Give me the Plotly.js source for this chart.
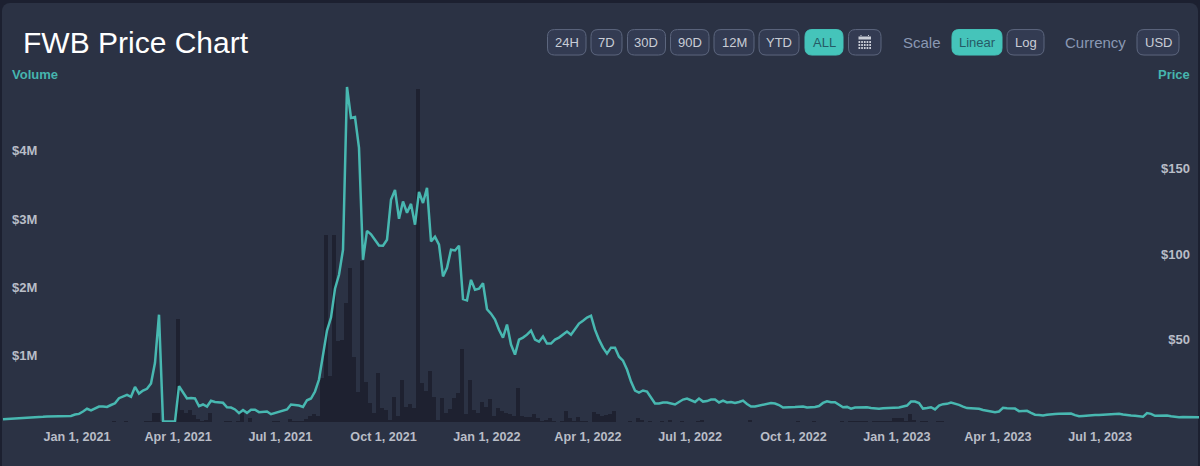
<!DOCTYPE html>
<html><head><meta charset="utf-8">
<script src="https://cdn.plot.ly/plotly-3.0.1.min.js"></script>
<style>
html,body{margin:0;padding:0;background:#1c2030;width:1200px;height:466px;overflow:hidden}
#card{position:absolute;left:2px;top:3px;width:1196px;height:463px;background:#2b3244;border-radius:8px 8px 0 0}
#chart{position:absolute;left:0;top:0;width:1200px;height:466px}
</style></head><body>
<div id="card"></div><div id="chart"></div>
<script>
const chartTitle = "FWB Price Chart";
const tickDates = ["2021-01-01","2021-04-01","2021-07-01","2021-10-01","2022-01-01","2022-04-01","2022-07-01","2022-10-01","2023-01-01","2023-04-01","2023-07-01"];
const tickLabels = ["Jan 1, 2021","Apr 1, 2021","Jul 1, 2021","Oct 1, 2021","Jan 1, 2022","Apr 1, 2022","Jul 1, 2022","Oct 1, 2022","Jan 1, 2023","Apr 1, 2023","Jul 1, 2023"];
const volumeTicks = [1,2,3,4];
const volumeTickLabels = ["$1M","$2M","$3M","$4M"];
const priceTicks = [50,100,150];
const priceTickLabels = ["$50","$100","$150"];

// price in USD, one reading per sampling step
const prices = [
3.4,3.5,3.6,3.8,4.0,4.0,4.2,4.2,4.4,4.7,4.8,5.0,5.0,5.0,5.0,5.1,5.1,5.3,6.1,6.5,
7.9,9.5,8.5,9.6,10.8,10.8,10.6,11.7,12.7,15.7,16.7,17.7,16.5,22.3,18.4,20.2,21.2,24.3,36.4,64.6,
2.1,2.1,2.1,2.1,22.7,19,15.5,15.8,15.5,11,12,10.8,14.2,13.5,13.2,13,10.4,10.2,9.1,6.9,
8.8,7.1,8.9,8.9,7.5,7.7,7.9,6.3,6.9,7.5,8.1,9.1,12,11.7,11.4,10.6,14.5,15.5,19.6,26.6,
41.2,55.3,62.9,79.8,88,102.6,198,179.8,180.4,162.3,96.8,113.7,111.7,108.5,105.1,105,108.5,131.9,137.7,120.8,
130.9,124.3,129.5,117.3,136.5,130,138.9,107.5,110.2,105.6,87,92.1,102.6,102.2,105,73.8,73,85,79.2,79.8,
83,67.8,65.2,61.7,55.8,51.2,58.8,47.1,41.2,50,51.2,52.9,55.3,50,48.8,51.8,47.7,47.7,50,51.2,
52.9,54.7,52.9,55.8,59.4,61.1,62.9,64,55.8,50,45.3,41.8,45.3,45.3,40,37.7,32.5,25.4,20.2,19,
20.2,19.6,16.1,12.6,12.6,13.2,13.2,12.6,12,13.5,14.9,15.5,14.3,13.5,15.5,13.7,14,14.9,14.9,13.2,
14.3,13.2,13.5,12.9,13.5,14.3,12.3,10.8,10.8,11.4,12,12.3,12.9,12.6,11.7,10.2,10.2,10.4,10.5,10.7,
10.8,10.2,10.2,10.5,11.1,12.9,13.9,13.3,13.3,12,10.4,10.6,9.6,10.2,10.2,10.2,10.4,9.9,9.6,9.5,
9.8,9.9,9.9,9.9,10.2,10.8,11.4,13.7,13.7,12.9,9.6,9.9,10.4,9.1,11.4,12.2,12.4,13.2,12.6,11.8,
10.8,9.9,9.8,9.8,9.5,8.8,8.3,7.9,7.5,7.9,10.1,9.8,9.8,9.6,8.1,8,8.3,7.1,6,5.8,
5.6,6,6.4,6.5,6.6,6.7,6.7,6.7,5.8,5.1,5.3,5.6,5.7,5.8,5.8,5.9,6,6.3,6.6,6.6,
6.1,5.7,5.6,5.4,5.1,4.8,7,6.5,5.4,5.6,5.6,5.6,5.1,4.7,4.6,4.7,4.6,4.6,4.6,4.6];

// volume in millions of USD, one reading per sampling step
const volumes = [
0,0,0,0,0,0,0,0,0,0,0,0,0,0,0,0,0,0,0,0,
0,0,0,0,0,0,0,0,0.04,0,0,0.05,0,0,0.03,0.03,0.04,0.05,0.16,0.16,
0.05,0,0,0,1.53,0.20,0.16,0.20,0.13,0.07,0.05,0.06,0.16,0.03,0.03,0.03,0.04,0.04,0.03,0.04,
0.16,0.03,0.08,0.03,0.03,0.03,0.03,0.03,0.04,0.04,0.03,0.03,0.07,0.05,0.04,0.05,0.07,0.11,0.15,0.11,
0.67,2.77,0.70,2.76,1.21,1.23,1.77,2.28,0.98,0.46,2.38,0.61,0.31,0.16,0.75,0.24,0.21,0.06,0.40,0.11,
0.64,0.25,0.29,0.24,4.91,0.60,0.48,0.77,0.40,0.06,0.38,0.16,0.22,0.38,0.45,1.10,0.14,0.64,0.20,0.16,
0.32,0.25,0.36,0.12,0.24,0.19,0.16,0.14,0.12,0.52,0.12,0.10,0.10,0.14,0.08,0.05,0.06,0.08,0.04,0.03,
0.05,0.19,0.08,0.04,0.10,0.05,0.04,0.03,0.17,0.15,0.12,0.13,0.15,0.19,0.03,0.03,0.03,0.05,0.03,0.08,
0.06,0.03,0.05,0.03,0.03,0.04,0.03,0.06,0.03,0.03,0.04,0.03,0.03,0.03,0.05,0.06,0.03,0.03,0.03,0.03,
0.03,0.03,0.03,0.03,0.03,0.03,0.03,0.06,0.03,0.03,0.03,0.03,0.03,0.03,0.03,0.03,0.03,0.03,0.03,0.04,
0.03,0.03,0.03,0.05,0.03,0.03,0.03,0.03,0.03,0.03,0.04,0.03,0.04,0.04,0.04,0.04,0.04,0.03,0.04,0.04,
0.04,0.04,0.04,0.09,0.09,0.08,0.05,0.15,0.06,0.03,0.05,0.05,0.03,0.03,0.04,0.04,0.03,0.03,0.03,0.03,
0.03,0.03,0.03,0.03,0.03,0.03,0.03,0.03,0.03,0.03,0.03,0.03,0.03,0.03,0.03,0.03,0.03,0.03,0.03,0.03,
0.03,0.03,0.03,0.03,0.03,0.03,0.03,0.03,0.03,0.03,0.03,0.03,0.03,0.03,0.03,0.03,0.03,0.03,0.03,0.03,
0.03,0.03,0.03,0.03,0.03,0.03,0.03,0.03,0.03,0.03,0.03,0.03,0.03,0.03,0.03,0.03,0.03,0.03,0.03,0.03];

const DAY = 86400000;
const stepDays = 3.562;
const priceStart = Date.UTC(2020,9,27,2);
const volumeStart = Date.UTC(2020,9,26,5);
const iso = t => new Date(t).toISOString().slice(0,19);
const priceDates = prices.map((_,i)=>iso(priceStart+i*stepDays*DAY));
const volumeDates = volumes.map((_,i)=>iso(volumeStart+i*stepDays*DAY));

// header controls
const rangeButtons = [["24H",547.5,586,0],["7D",591,622,0],["30D",627.5,665.5,0],["90D",670.5,709,0],["12M",714,754,0],["YTD",759,799,0],["ALL",805,843,1],["",848.5,881,0],["Linear",952,1002,1],["Log",1007,1044,0],["USD",1137,1179,0]];
const headerLabels = [["Scale",922],["Currency",1095.5]];

const W=1200, H=466, T=80, B=422.5;
const px = x => x/W;
const py = y => (B-y)/(B-T);
const roundRect = (x0,x1,y0,y1,r) => {
  const a=px(x0),b=px(x1),c=py(y0),d=py(y1),rx=r/W,ry=r/(B-T);
  return `M ${a+rx} ${c} L ${b-rx} ${c} Q ${b} ${c} ${b} ${c-ry} L ${b} ${d+ry} Q ${b} ${d} ${b-rx} ${d} L ${a+rx} ${d} Q ${a} ${d} ${a} ${d+ry} L ${a} ${c-ry} Q ${a} ${c} ${a+rx} ${c} Z`;
};
const shapes = [], annotations = [];
rangeButtons.forEach(([label,x0,x1,active])=>{
  shapes.push({type:"path",xref:"paper",yref:"paper",path:roundRect(x0,x1,29.5,55,7),
    fillcolor:active?"#45c4ba":"#333b52",line:{color:active?"#45c4ba":"#5c667e",width:1},layer:"above"});
  if(label) annotations.push({xref:"paper",yref:"paper",x:px((x0+x1)/2),y:py(42),text:label,showarrow:false,
    xanchor:"center",yanchor:"middle",font:{family:"Arial, Liberation Sans",size:13,color:active?"#265a66":"#c9cdd6"}});
});
headerLabels.forEach(([label,x])=>annotations.push({xref:"paper",yref:"paper",x:px(x),y:py(42),text:label,showarrow:false,
  xanchor:"center",yanchor:"middle",font:{family:"Arial, Liberation Sans",size:15,color:"#8a98b3"}}));
annotations.push({xref:"paper",yref:"paper",x:px(9.5),y:py(74.5),text:"<b>Volume</b>",showarrow:false,xanchor:"left",yanchor:"middle",
  font:{family:"Arial, Liberation Sans",size:13,color:"#46b5ae"}});
annotations.push({xref:"paper",yref:"paper",x:px(1191.5),y:py(74.5),text:"<b>Price</b>",showarrow:false,xanchor:"right",yanchor:"middle",
  font:{family:"Arial, Liberation Sans",size:13,color:"#46b5ae"}});
// calendar icon
const rect=(x0,x1,y0,y1)=>`M ${px(x0)} ${py(y0)} L ${px(x1)} ${py(y0)} L ${px(x1)} ${py(y1)} L ${px(x0)} ${py(y1)} Z `;
let icon = rect(858.5,871,36.5,39.5)+rect(860.5,861.5,35,37)+rect(868,869,35,37);
[41,44,47].forEach(y=>[858.5,861.2,863.9,866.6,869.3].forEach(x=>{icon+=rect(x,x+1.7,y,y+2);}));
shapes.push({type:"path",xref:"paper",yref:"paper",path:icon,fillcolor:"#c9cdd6",line:{width:0},layer:"above"});

const axisFont = {family:"Arial, Liberation Sans",size:12.6,color:"#b9bdc7",weight:"bold"};
const yAxisFont = {family:"Arial, Liberation Sans",size:13,color:"#b9bdc7",weight:"bold"};
const traces = [
 {type:"bar",x:volumeDates,y:volumes,yaxis:"y",marker:{color:"#1e2130",line:{width:0}},width:4*DAY/1.123,hoverinfo:"skip",showlegend:false},
 {type:"scatter",mode:"lines",x:priceDates,y:prices,yaxis:"y2",line:{color:"#48b8b1",width:2.5,shape:"linear"},cliponaxis:false,hoverinfo:"skip",showlegend:false}
];
const layout = {
 width:W,height:H,margin:{l:0,r:0,t:T,b:H-B,pad:0},
 paper_bgcolor:"rgba(0,0,0,0)",plot_bgcolor:"rgba(0,0,0,0)",
 title:{text:chartTitle,x:px(23),xref:"paper",xanchor:"left",y:1-42/H,yref:"container",yanchor:"middle",
   font:{family:"Arial, Liberation Sans",size:30,color:"#ffffff"}},
 showlegend:false,bargap:0,
 xaxis:{type:"date",range:["2020-10-24T10:00:00","2023-09-28T00:00:00"],tickmode:"array",tickvals:tickDates,ticktext:tickLabels,
   showgrid:false,zeroline:false,showline:false,ticks:"",tickfont:axisFont,ticklabelstandoff:5},
 yaxis:{range:[0.028,5.035],tickmode:"array",tickvals:volumeTicks,ticktext:volumeTickLabels,showgrid:false,zeroline:false,showline:false,
   ticks:"",ticklabelposition:"inside",ticklabelstandoff:9,tickfont:yAxisFont},
 yaxis2:{range:[1.75,202.05],overlaying:"y",side:"right",tickmode:"array",tickvals:priceTicks,ticktext:priceTickLabels,showgrid:false,zeroline:false,showline:false,
   ticks:"",ticklabelposition:"inside",ticklabelstandoff:7,tickfont:yAxisFont},
 shapes,annotations
};
Plotly.newPlot("chart",traces,layout,{displayModeBar:false,staticPlot:true});
</script></body></html>
